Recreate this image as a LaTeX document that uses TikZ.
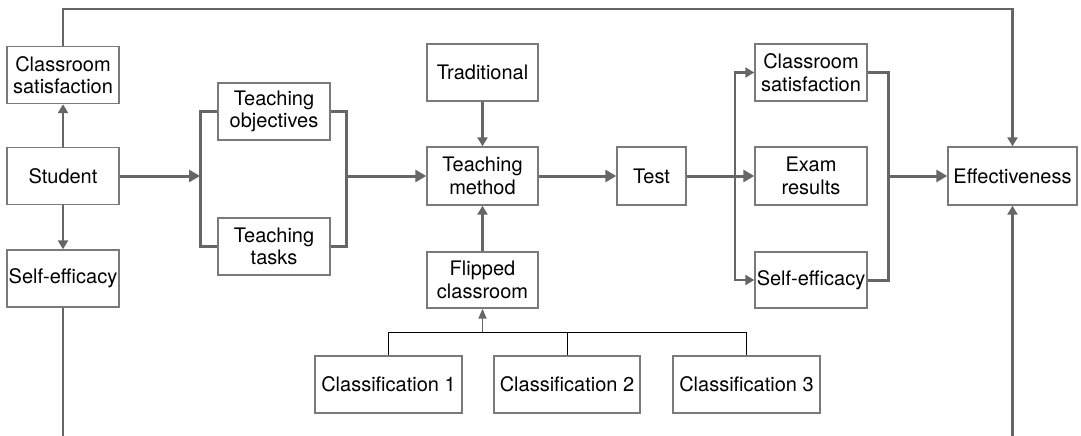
\documentclass[tikz,border=0pt]{standalone}
\usepackage{fontspec}
\setmainfont{TeX Gyre Heros}
\usetikzlibrary{arrows.meta}
\definecolor{ln}{HTML}{666666}
\definecolor{bx}{HTML}{7A7A7A}
\begin{document}
\begin{tikzpicture}[x=1pt,y=-1pt,
  box/.style={draw=bx,line width=1.4pt,rectangle,inner sep=0pt,align=center,
    font=\fontsize{20}{22.5}\selectfont,minimum width=112pt,minimum height=57pt},
  thick line/.style={draw=ln,line width=3pt,line join=miter},
  mid line/.style={draw=ln,line width=2.4pt,line join=miter},
  big arrow/.style={thick line,-{Triangle[length=11pt,width=12pt]}},
  mid arrow/.style={mid line,-{Triangle[length=9pt,width=10pt]}},
  thin line/.style={draw=black,line width=1pt},
  small arrow/.style={draw=ln,line width=1.8pt,-{Triangle[length=10pt,width=8pt]}}]
\useasboundingbox (0,0) rectangle (1081,436);
% nodes
\node[box] (lcs) at (63,75) {Classroom\\satisfaction};
\node[box] (stu) at (63,176) {Student};
\node[box] (lse) at (63,278.5) {Self-efficacy};
\node[box] (tobj) at (274,111.5) {Teaching\\objectives};
\node[box] (ttask) at (274,246.5) {Teaching\\tasks};
\node[box,minimum width=111pt] (trad) at (482.5,72.5) {Traditional};
\node[box,minimum width=111pt,minimum height=58pt] (meth) at (482.5,176) {Teaching\\method};
\node[box,minimum width=111pt,minimum height=56pt] (flip) at (482.5,280) {Flipped\\classroom};
\node[box,minimum width=69pt,minimum height=58pt] (test) at (651.5,176) {Test};
\node[box] (rcs) at (811,72.5) {Classroom\\satisfaction};
\node[box,minimum height=58pt] (exam) at (811,176) {Exam\\results};
\node[box,minimum height=56pt] (rse) at (811,280) {Self-efficacy};
\node[box,minimum width=129pt,minimum height=58pt] (eff) at (1012.5,176) {Effectiveness};
\node[box,minimum width=147pt] (c1) at (388.5,384.5) {Classification 1};
\node[box,minimum width=146pt] (c2) at (567,384.5) {Classification 2};
\node[box,minimum width=147pt] (c3) at (746.5,384.5) {Classification 3};
% helper coordinates
\coordinate (top) at (0,9);
\coordinate (bot) at (0,437);
\coordinate (bl) at (200,176);
\coordinate (br) at (346,176);
\coordinate (tb) at (735,176);
\coordinate (rb) at (888,176);
\coordinate (tree) at (0,332);
% connectors
\draw[mid arrow] (stu.north) -- (lcs.south);
\draw[mid arrow] (stu.south) -- (lse.north);
\draw[mid arrow] (lcs.north) -- (lcs.north |- top) -| (eff.north);
\draw[mid line] (lse.south) -- (lse.south |- bot);
\draw[mid arrow] (eff.south |- bot) -- (eff.south);
\draw[big arrow] (stu.east) -- (bl);
\draw[thick line] (tobj.west) -| (bl) |- (ttask.west);
\draw[thick line] (tobj.east) -| (br) |- (ttask.east);
\draw[big arrow] (br) -- (meth.west);
\draw[mid arrow] (trad.south) -- (meth.north);
\draw[mid arrow] (flip.north) -- (meth.south);
\draw[big arrow] (meth.east) -- (test.west);
\draw[big arrow] (test.east) -- (exam.west);
\draw[mid arrow] (tb) |- (rcs.west);
\draw[mid arrow] (tb) |- (rse.west);
\draw[thick line] (rcs.east) -| (rb) |- (rse.east);
\draw[big arrow] (rb) -- (eff.west);
\draw[thin line] (c1.north) -- (c1.north |- tree) -- (c3.north |- tree) -- (c3.north);
\draw[thin line] (c2.north) -- (c2.north |- tree);
\draw[small arrow] (flip.south |- tree) -- (flip.south);
\end{tikzpicture}
\end{document}
